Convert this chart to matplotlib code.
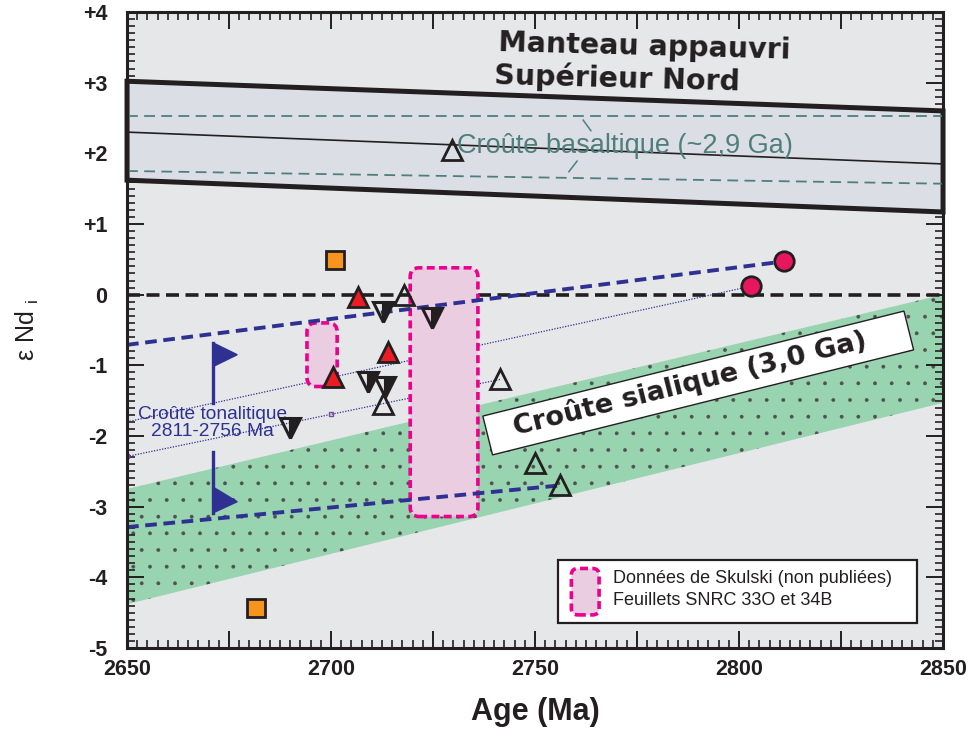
import matplotlib
matplotlib.use('Agg')
import matplotlib.pyplot as plt
from matplotlib.patches import Polygon, FancyBboxPatch, Rectangle
from matplotlib.ticker import MultipleLocator, FuncFormatter
from matplotlib.transforms import IdentityTransform

plt.rcParams['font.family'] = ['Liberation Sans', 'DejaVu Sans']
plt.rcParams['hatch.linewidth'] = 0.3

# data
x_range = [2650, 2850]
mantle_top = [3.02, 2.60]
mantle_bot = [1.62, 1.17]
mantle_mid = [2.30, 1.85]
basalt_hi = [2.53, 2.53]
basalt_lo = [1.75, 1.57]
sial_top = [-2.75, 0.0]
sial_bot = [-4.38, -1.53]

tonal_hi_x = [2650, 2811]
tonal_hi_y = [-0.71, 0.47]
tonal_lo_x = [2650, 2756]
tonal_lo_y = [-3.29, -2.70]
dot_a_x = [2650, 2803]
dot_a_y = [-1.80, 0.12]
dot_b_x = [2650, 2741.4]
dot_b_y = [-2.29, -1.20]

age_sq = [2701, 2681.5]
end_sq = [0.49, -4.43]
age_tri_red = [2706.5, 2714, 2700.5]
end_tri_red = [-0.04, -0.81, -1.16]
age_tri_open = [2729.7, 2718, 2712.7, 2741.4, 2750, 2756]
end_tri_open = [2.05, 0.0, -1.55, -1.2, -2.38, -2.69]
age_inv = [2712.7, 2724.8, 2709, 2713.2, 2690]
end_inv = [-0.24, -0.33, -1.23, -1.30, -1.88]
age_circ = [2811, 2803]
end_circ = [0.47, 0.12]
age_small = [2650, 2700, 2700]
end_small = [-2.29, -1.69, -1.16]

# Skulski boxes: (x0, x1, y0, y1)
skulski = [(2694.1, 2701.5, -1.30, -0.40), (2719.4, 2736.0, -3.14, 0.38)]

# tonalitic crust range flags
flag_x = 2671
flag_tip = 2677
flag_up = [-0.68, -0.85, -1.02, -1.53]
flag_dn = [-2.22, -2.72, -2.93, -3.09]

navy = '#2e3192'
teal = '#4f7f7c'
pink = '#ec008c'
pinkfill = '#ebcde2'

fig = plt.figure(figsize=(9.69, 7.36), dpi=100)
ax = fig.add_axes([0.1311, 0.1196, 0.8421, 0.8641])
ax.set_facecolor('#e6e7e8')
ax.set_xlim(2650, 2850)
ax.set_ylim(-5, 4)

# depleted mantle band
mantle = Polygon([(x_range[0], mantle_top[0]), (x_range[1], mantle_top[1]),
                  (x_range[1], mantle_bot[1]), (x_range[0], mantle_bot[0])],
                 closed=True, fc='#dcdee6', ec='#231f20', lw=3.6, zorder=2, clip_on=False)
ax.add_patch(mantle)
ax.plot(x_range, mantle_mid, color='#231f20', lw=1.2, zorder=3)
ax.plot(x_range, basalt_hi, color=teal, lw=1.3, dashes=(6, 3.5), zorder=3)
ax.plot(x_range, basalt_lo, color=teal, lw=1.3, dashes=(6, 3.5), zorder=3)
ax.plot([2761.8, 2763.7], [2.47, 2.32], color=teal, lw=1.1, zorder=3)
ax.plot([2758.3, 2760.3], [1.74, 1.89], color=teal, lw=1.1, zorder=3)
ax.text(2730.9, 2.10, 'Croûte basaltique (~2,9 Ga)', color=teal, fontsize=19.5,
        ha='left', va='center', zorder=4)

ax.text(2741, 3.51, 'Manteau appauvri', fontsize=20.5, fontweight='heavy',
        family='DejaVu Sans', color='#231f20', ha='left', va='center', rotation=-1.5, zorder=4)
ax.text(2740, 3.06, 'Supérieur Nord', fontsize=20.5, fontweight='heavy',
        family='DejaVu Sans', color='#231f20', ha='left', va='center', rotation=-1.5, zorder=4)

# sialic crust band
sial = Polygon([(x_range[0], sial_top[0]), (x_range[1], sial_top[1]),
                (x_range[1], sial_bot[1]), (x_range[0], sial_bot[0])],
               closed=True, fc='#98d4b0', ec='#505050', lw=0, hatch='.', zorder=1)
ax.add_patch(sial)

# zero line
ax.axhline(0, color='#231f20', lw=2.6, dashes=(3.6, 1.8), zorder=2)

# Skulski boxes
for x0, x1, y0, y1 in skulski:
    box = FancyBboxPatch((x0, y0), x1 - x0, y1 - y0,
                         boxstyle='round,pad=0,rounding_size=2.2',
                         mutation_aspect=0.0577, fc=pinkfill, ec=pink,
                         lw=2.6, ls=(0, (2.2, 1.2)), zorder=3)
    ax.add_patch(box)

# tonalitic crust lines
ax.plot(dot_a_x, dot_a_y, color=navy, lw=0.9, ls=(0, (1, 1.2)), zorder=2.5)
ax.plot(dot_b_x, dot_b_y, color=navy, lw=0.9, ls=(0, (1, 1.2)), zorder=2.5)
ax.plot(tonal_hi_x, tonal_hi_y, color=navy, lw=2.8, dashes=(3, 1.7), zorder=4)
ax.plot(tonal_lo_x, tonal_lo_y, color=navy, lw=2.8, dashes=(3, 1.7), zorder=4)
ax.plot(age_small, end_small, ls='none', marker='s', ms=3.5, mfc='none',
        mec='#7a4aa0', mew=1, zorder=6)

ax.plot([flag_x, flag_x], [flag_up[0], flag_up[3]], color=navy, lw=2.4, zorder=4)
ax.add_patch(Polygon([(flag_x, flag_up[0]), (flag_tip, flag_up[1]), (flag_x, flag_up[2])],
                     closed=True, fc=navy, ec=navy, lw=1, zorder=4))
ax.plot([flag_x, flag_x], [flag_dn[0], flag_dn[3]], color=navy, lw=2.4, zorder=4)
ax.add_patch(Polygon([(flag_x, flag_dn[1]), (flag_tip, flag_dn[2]), (flag_x, flag_dn[3])],
                     closed=True, fc=navy, ec=navy, lw=1, zorder=4))
ax.text(flag_x, -1.81, 'Croûte tonalitique\n2811-2756 Ma', color=navy, fontsize=13.8,
        ha='center', va='center', linespacing=1.0, zorder=5)

# data points
ax.plot(age_sq, end_sq, ls='none', marker='s', ms=13, mfc='#f7941d', mec='#231f20', mew=2, zorder=7)
ax.plot(age_tri_open, end_tri_open, ls='none', marker='^', ms=14, mfc='none', mec='#231f20', mew=2, zorder=7)
ax.plot(age_inv, end_inv, ls='none', marker='v', ms=14, fillstyle='right', mfc='#231f20',
        mfcalt='none', mec='#231f20', mew=2.2, zorder=7)
ax.plot(age_tri_red, end_tri_red, ls='none', marker='^', ms=14, mfc='#ed1c24', mec='#231f20', mew=2, zorder=7)
ax.plot(age_circ, end_circ, ls='none', marker='o', ms=14, mfc='#e8175d', mec='#231f20', mew=2, zorder=7)

# sialic crust label box
fig.canvas.draw()
cx, cy = ax.transData.transform((2790, -1.25))
ax.add_artist(Rectangle((cx - 217, cy - 20), 434, 40, angle=14, rotation_point='center',
                        fc='white', ec='#231f20', lw=1.0, transform=IdentityTransform(), zorder=5))
ax.text(2788, -1.25, 'Croûte sialique (3,0 Ga)', fontsize=19.5, fontweight='heavy',
        family='DejaVu Sans', color='#231f20', ha='center', va='center',
        rotation=14, rotation_mode='anchor', zorder=6)

# legend
ax.add_patch(Rectangle((0.528, 0.040), 0.44, 0.099, transform=ax.transAxes,
                       fc='white', ec='#231f20', lw=1.6, zorder=8))
ax.add_patch(FancyBboxPatch((0.5445, 0.052), 0.034, 0.073, transform=ax.transAxes,
                            boxstyle='round,pad=0,rounding_size=0.008',
                            mutation_aspect=1.3, fc=pinkfill, ec=pink, lw=2.6,
                            ls=(0, (2.2, 1.2)), zorder=9))
ax.text(0.596, 0.110, 'Données de Skulski (non publiées)', transform=ax.transAxes,
        fontsize=13, ha='left', va='center', color='#231f20', zorder=9)
ax.text(0.596, 0.075, 'Feuillets SNRC 33O et 34B', transform=ax.transAxes,
        fontsize=13, ha='left', va='center', color='#231f20', zorder=9)

# axes and ticks
ax.xaxis.set_major_locator(MultipleLocator(25))
ax.xaxis.set_minor_locator(MultipleLocator(2.5))
ax.yaxis.set_major_locator(MultipleLocator(1))
ax.yaxis.set_minor_locator(MultipleLocator(0.1))
ax.xaxis.set_major_formatter(FuncFormatter(lambda v, p: '%d' % v if round(v) % 50 == 0 else ''))
ax.yaxis.set_major_formatter(FuncFormatter(lambda v, p: '+%d' % v if v > 0 else '%d' % v))
ax.tick_params(which='both', direction='in', top=True, right=True, color='#231f20')
ax.tick_params(which='major', length=12, width=1.4)
ax.tick_params(which='minor', length=6, width=1.2)
ax.tick_params(axis='x', which='major', pad=8, labelsize=15.5)
ax.tick_params(axis='y', which='major', pad=14, labelsize=15.5)
for lab in ax.get_xticklabels() + ax.get_yticklabels():
    lab.set_fontweight('bold')
    lab.set_color('#231f20')
for s in ax.spines.values():
    s.set_linewidth(2.2)
    s.set_color('#231f20')
    s.set_zorder(10)

ax.set_xlabel('Age (Ma)', fontsize=22, fontweight='bold', color='#231f20', labelpad=12)
ax.set_ylabel('ε Nd $_{\\mathregular{i}}$', fontsize=18, color='#231f20', labelpad=30)

fig.savefig('out.png', dpi=100)
